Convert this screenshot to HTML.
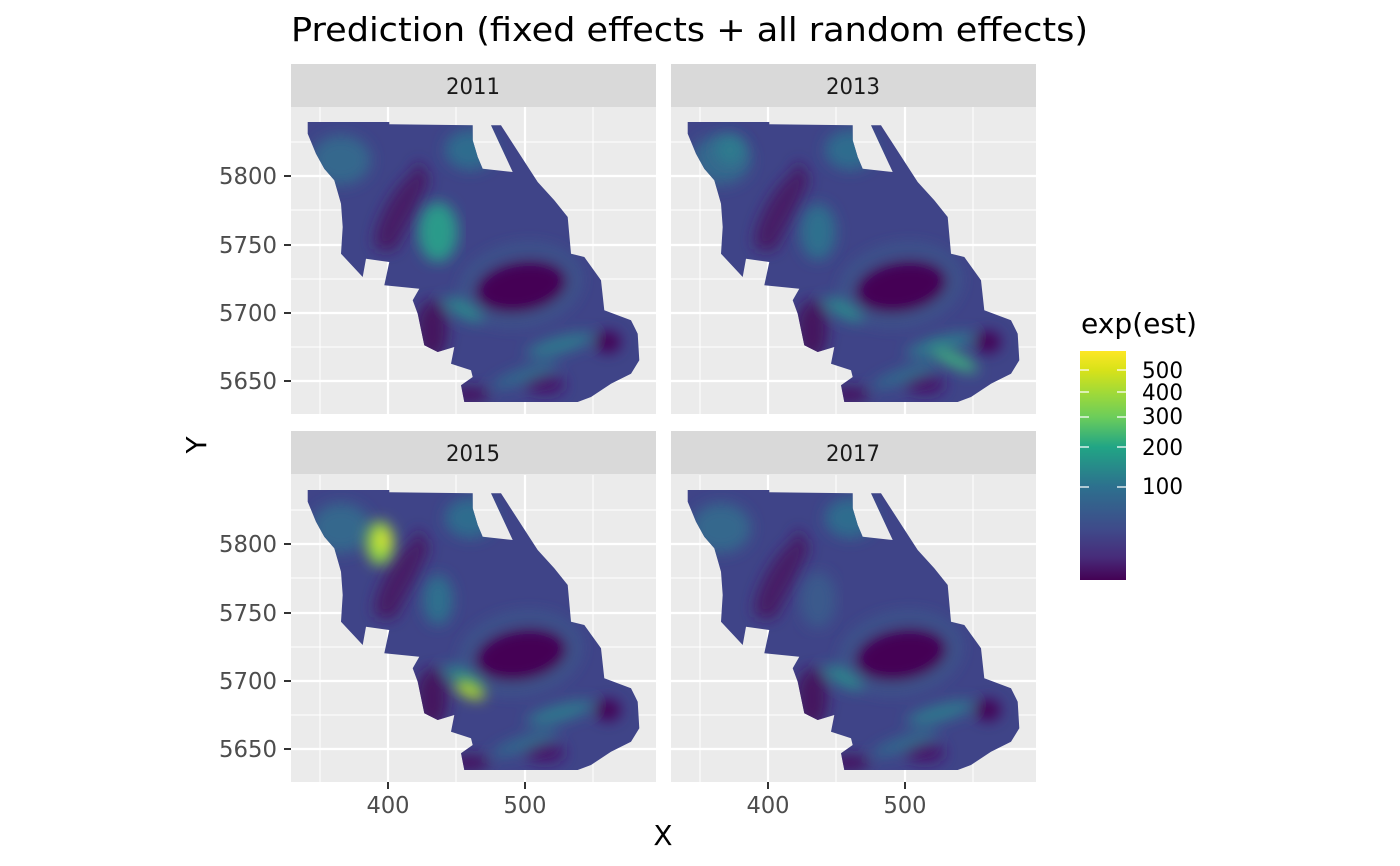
<!DOCTYPE html>
<html><head><meta charset="utf-8"><style>
body{margin:0;background:#fff;}
svg{display:block;font-family:"DejaVu Sans","Liberation Sans",sans-serif;}
</style></head><body>
<svg width="1400" height="866" viewBox="0 0 1400 866" xmlns="http://www.w3.org/2000/svg">
<defs>
<clipPath id="cp"><polygon points="307.7,122 389.3,122 389.3,124.3 472.7,125.3 472.7,140.3 477.7,157 482.7,168.7 512.7,172 491,125.3 501,125.3 537.7,182 554.3,200.3 567.7,217 571,253.7 584.3,257 601,280.3 604.3,310.3 631,320.3 637.7,333.7 639.3,360.3 631,373.7 611,383.7 591,397 577.7,402 464.3,402 461,385.3 472.7,377 471,370.3 451,363.7 454.3,347 437.7,352 424.3,345.3 417.7,313.7 412.7,300.3 419.3,288.7 384.3,285.3 389.3,262 366,258.7 362.7,277 341,253.7 342.7,227 341,203.7 334.3,180.3 324.3,168.7 316,153.7 307.7,133.7"/></clipPath>
<filter id="bl" x="-20%" y="-20%" width="140%" height="140%"><feGaussianBlur stdDeviation="7"/></filter>
<linearGradient id="cb" x1="0" y1="1" x2="0" y2="0">
<stop offset="0" stop-color="#440154"/><stop offset="0.1" stop-color="#472c7a"/><stop offset="0.22" stop-color="#3f4a8a"/><stop offset="0.406" stop-color="#2d708e"/><stop offset="0.581" stop-color="#21a585"/><stop offset="0.712" stop-color="#6ccd5a"/><stop offset="0.821" stop-color="#a2da37"/><stop offset="0.917" stop-color="#d8e219"/><stop offset="1" stop-color="#fde725"/></linearGradient>
<g id="base">
<rect x="290" y="110" width="370" height="300" fill="#3f4488"/>
<g filter="url(#bl)">
<ellipse cx="341" cy="160" rx="30" ry="25" fill="#35688d"/>
<ellipse cx="470" cy="150" rx="25" ry="20" fill="#2f6c8e"/>
<polygon points="418,160 430,180 395,250 380,250" fill="#46175f"/>
<ellipse cx="400" cy="210" rx="14" ry="45" fill="#471a66" transform="rotate(30 400 210)"/>
<ellipse cx="521" cy="287" rx="46" ry="25" fill="#440154" transform="rotate(-10 521 287)"/>
<ellipse cx="521" cy="285" rx="56" ry="36" fill="none" stroke="#3a5c8c" stroke-width="8" transform="rotate(-10 521 287)"/>
<ellipse cx="432" cy="330" rx="16" ry="30" fill="#45125f"/>
<ellipse cx="470" cy="395" rx="20" ry="8" fill="#45175f"/>
<ellipse cx="608" cy="342" rx="13" ry="11" fill="#440154"/>
<ellipse cx="545" cy="385" rx="20" ry="10" fill="#46196a"/>
<ellipse cx="463" cy="310" rx="22" ry="7" fill="#2a8a8c" transform="rotate(30 463 310)"/>
<ellipse cx="560" cy="345" rx="35" ry="8" fill="#2d7c8e" transform="rotate(-15 560 345)"/>
<ellipse cx="525" cy="375" rx="35" ry="6" fill="#2f6f8e" transform="rotate(-20 525 375)"/>
</g>
</g>
</defs>
<text x="291" y="41" font-size="33" fill="#000" textLength="797" lengthAdjust="spacingAndGlyphs">Prediction (fixed effects + all random effects)</text>
<rect x="291" y="64" width="365" height="43" fill="#d9d9d9"/>
<rect x="291" y="107" width="365" height="307" fill="#ebebeb"/>
<rect x="671" y="64" width="365" height="43" fill="#d9d9d9"/>
<rect x="671" y="107" width="365" height="307" fill="#ebebeb"/>
<rect x="291" y="431" width="365" height="43" fill="#d9d9d9"/>
<rect x="291" y="474" width="365" height="308" fill="#ebebeb"/>
<rect x="671" y="431" width="365" height="43" fill="#d9d9d9"/>
<rect x="671" y="474" width="365" height="308" fill="#ebebeb"/>
<g id="grid">
<g stroke="#fff" stroke-width="1">
<path d="M320 107V414M456 107V414M593 107V414M291 142H656M291 210H656M291 279H656M291 347H656"/>
</g>
<g stroke="#fff" stroke-width="2.2">
<path d="M388 107V414M525 107V414M291 176H656M291 245H656M291 313H656M291 381H656"/>
</g>
</g>
<use href="#grid" transform="translate(380,0)"/>
<use href="#grid" transform="translate(0,368)"/>
<use href="#grid" transform="translate(380,368)"/>
<g clip-path="url(#cp)">
<use href="#base"/>
<g filter="url(#bl)"><ellipse cx="438" cy="232" rx="20" ry="30" fill="#2a9a8a"/></g>
</g>
<g transform="translate(380,0)"><g clip-path="url(#cp)">
<use href="#base"/>
<g filter="url(#bl)"><ellipse cx="438" cy="232" rx="18" ry="28" fill="#2f6f8e"/><ellipse cx="575" cy="360" rx="25" ry="7" fill="#3cae7e" transform="rotate(25 575 360)"/><ellipse cx="350" cy="150" rx="15" ry="15" fill="#2d7a8e"/></g>
</g></g>
<g transform="translate(0,368)"><g clip-path="url(#cp)">
<use href="#base"/>
<g filter="url(#bl)"><ellipse cx="380" cy="175" rx="14" ry="22" fill="#8fd744"/><ellipse cx="383" cy="172" rx="6" ry="10" fill="#e0e32a"/><ellipse cx="470" cy="322" rx="16" ry="7" fill="#b5de2b" transform="rotate(25 470 322)"/><ellipse cx="438" cy="232" rx="15" ry="25" fill="#2f6f8e"/></g>
</g></g>
<g transform="translate(380,368)"><g clip-path="url(#cp)">
<use href="#base"/>
<g filter="url(#bl)"><ellipse cx="438" cy="232" rx="18" ry="28" fill="#3b5a8c"/></g>
</g></g>
<g font-size="22" fill="#1a1a1a" text-anchor="middle">
<text x="473" y="94" textLength="54" lengthAdjust="spacingAndGlyphs">2011</text><text x="853" y="94" textLength="54" lengthAdjust="spacingAndGlyphs">2013</text>
<text x="473" y="461" textLength="54" lengthAdjust="spacingAndGlyphs">2015</text><text x="853" y="461" textLength="54" lengthAdjust="spacingAndGlyphs">2017</text>
</g>
<g stroke="#333" stroke-width="2">
<path d="M284 176H291M284 245H291M284 313H291M284 381H291"/>
<path d="M284 544H291M284 613H291M284 681H291M284 749H291"/>
<path d="M388 782V789M525 782V789M768 782V789M905 782V789"/>
</g>
<g font-size="23" fill="#4d4d4d" text-anchor="end">
<text x="277" y="184" textLength="58" lengthAdjust="spacingAndGlyphs">5800</text><text x="277" y="253" textLength="58" lengthAdjust="spacingAndGlyphs">5750</text><text x="277" y="321" textLength="58" lengthAdjust="spacingAndGlyphs">5700</text><text x="277" y="389" textLength="58" lengthAdjust="spacingAndGlyphs">5650</text>
<text x="277" y="552" textLength="58" lengthAdjust="spacingAndGlyphs">5800</text><text x="277" y="621" textLength="58" lengthAdjust="spacingAndGlyphs">5750</text><text x="277" y="689" textLength="58" lengthAdjust="spacingAndGlyphs">5700</text><text x="277" y="757" textLength="58" lengthAdjust="spacingAndGlyphs">5650</text>
</g>
<g font-size="23" fill="#4d4d4d" text-anchor="middle">
<text x="388" y="813" textLength="43" lengthAdjust="spacingAndGlyphs">400</text><text x="525" y="813" textLength="43" lengthAdjust="spacingAndGlyphs">500</text><text x="768" y="813" textLength="43" lengthAdjust="spacingAndGlyphs">400</text><text x="905" y="813" textLength="43" lengthAdjust="spacingAndGlyphs">500</text>
</g>
<text x="663" y="845" font-size="28" text-anchor="middle">X</text>
<text transform="translate(206,445) rotate(-90)" font-size="28" text-anchor="middle">Y</text>
<text x="1081" y="333" font-size="28" textLength="116" lengthAdjust="spacingAndGlyphs">exp(est)</text>
<rect x="1080" y="351" width="46" height="229" fill="url(#cb)"/>
<g stroke="#fff" stroke-width="1.2"><path d="M1080 370h9M1117 370h9M1080 392h9M1117 392h9M1080 417h9M1117 417h9M1080 447h9M1117 447h9M1080 487h9M1117 487h9"/></g>
<g font-size="22" fill="#000">
<text x="1142" y="378" textLength="41" lengthAdjust="spacingAndGlyphs">500</text><text x="1142" y="400" textLength="41" lengthAdjust="spacingAndGlyphs">400</text><text x="1142" y="424" textLength="41" lengthAdjust="spacingAndGlyphs">300</text><text x="1142" y="455" textLength="41" lengthAdjust="spacingAndGlyphs">200</text><text x="1142" y="494" textLength="41" lengthAdjust="spacingAndGlyphs">100</text>
</g>
</svg>
</body></html>
